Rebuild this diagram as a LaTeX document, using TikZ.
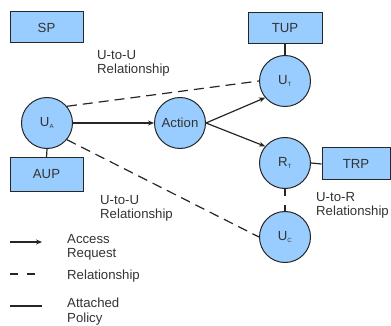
\documentclass[tikz,border=0pt]{standalone}
\usepackage{fontspec}
\setmainfont{Liberation Sans}
\usetikzlibrary{arrows.meta}

\definecolor{entblue}{HTML}{99CCFF}
\definecolor{inkgray}{HTML}{333333}

\tikzset{
  ent/.style={circle, draw=black!85, fill=entblue, line width=1pt,
              minimum size=51pt, inner sep=0pt, text=inkgray},
  pol/.style={rectangle, draw=black!85, fill=entblue, line width=1pt,
              inner sep=0pt, text=inkgray},
  lbl/.style={anchor=north west, align=left, inner sep=0pt, text=inkgray},
  req/.style={-{Stealth[length=6pt,width=5pt]}, line width=1.2pt, black!85},
  rel/.style={dash pattern=on 10pt off 6pt, line width=1.2pt, black!85},
  att/.style={line width=1.2pt, black!85}
}
\newcommand{\sbs}[1]{\textsubscript{\fontsize{6}{6}\selectfont #1}}

\begin{document}
\begin{tikzpicture}[x=1pt, y=-1pt, font=\fontsize{13.2}{14.5}\selectfont]
  % Bounding box
  \useasboundingbox (0,0) rectangle (391,326);

  % Policies
  \node[pol, minimum width=73pt, minimum height=31pt] (sp)  at ( 46.5, 27.5) {SP};
  \node[pol, minimum width=73pt, minimum height=33pt] (aup) at ( 46.5,174.5) {AUP};
  \node[pol, minimum width=74pt, minimum height=31pt] (tup) at (285.0, 28.5) {TUP};
  \node[pol, minimum width=68pt, minimum height=32pt] (trp) at (356.0,164.0) {TRP};

  % Users, resource and action
  \node[ent] (ua)  at ( 47,123) {U\sbs{A}};
  \node[ent] (act) at (180,123) {Action};
  \node[ent] (ut)  at (285, 81) {U\sbs{T}};
  \node[ent] (rt)  at (285,163) {R\sbs{T}};
  \node[ent] (uc)  at (285,237) {U\sbs{C}};

  % Attached policies
  \draw[att] (ua.south) -- (aup.north);
  \draw[att] (ut.north) -- (tup.south);
  \draw[att] (rt.east)  -- (trp.west);

  % Access requests
  \draw[req] (ua.east)  -- (act.west);
  \draw[req] (act.east) -- (ut.220);
  \draw[req] (act.east) -- (rt.140);

  % Relationships
  \draw[rel] (ua.40)  -- (ut.west);
  \draw[rel] (ua.-40) -- (uc.west);
  \draw[rel, dash pattern=on 7pt off 9pt] (rt.south) -- (uc.north);

  % Relationship labels
  \node[lbl] (uu1) at ( 97, 50) {U-to-U\\Relationship};
  \node[lbl] (uu2) at (100,195) {U-to-U\\Relationship};
  \node[lbl] (ur)  at (316,192) {U-to-R\\Relationship};

  % Legend
  \coordinate (k1a) at (10,242); \coordinate (k1b) at (42,242);
  \coordinate (k2a) at (10,274); \coordinate (k2b) at (36,274);
  \coordinate (k3a) at (10,306); \coordinate (k3b) at (42,306);
  \draw[req, line width=1.6pt] (k1a) -- (k1b);
  \draw[rel, line width=1.6pt, dash pattern=on 8pt off 9pt] (k2a) -- (k2b);
  \draw[att, line width=1.6pt] (k3a) -- (k3b);
  \node[lbl] (t1) at (67,234) {Access\\Request};
  \node[lbl] (t2) at (67,270) {Relationship};
  \node[lbl] (t3) at (67,298) {Attached\\Policy};
\end{tikzpicture}
\end{document}
